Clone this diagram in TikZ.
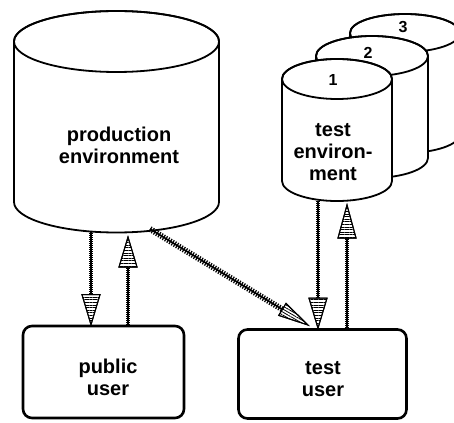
\documentclass[tikz,border=0pt]{standalone}
\usepackage{fontspec}
\setmainfont{Liberation Sans}
\usetikzlibrary{calc,patterns.meta}

\tikzset{
  drumline/.style={line width=1.8pt, draw=black, fill=white},
  userbox/.style={draw, line width=2.6pt, rounded corners=9pt},
  txt/.style={font=\bfseries\fontsize{20}{22}\selectfont, align=center, inner sep=0pt},
  disknum/.style={font=\bfseries\fontsize{16}{16}\selectfont, inner sep=0pt},
  shaft/.style={line width=1.4pt, preaction={draw, line width=4pt, dash pattern=on 1pt off 1pt}},
  bandshaft/.style={line width=1.6pt, preaction={draw, line width=6pt, dash pattern=on 1.2pt off 1.4pt}},
  hatchhead/.style={draw, line width=1pt, line join=miter},
}

% drum: centre x, top-ellipse y, bottom-ellipse y, x radius, y radius
\newcommand\drum[5]{%
  \filldraw[drumline] ({#1-#4},#2) -- ({#1-#4},#3)
    arc[start angle=180, end angle=0, x radius=#4, y radius=#5]
    -- ({#1+#4},#2)
    arc[start angle=0, end angle=-180, x radius=#4, y radius=#5] -- cycle;
  \draw[drumline, fill=none] (#1,#2) ellipse[x radius=#4, y radius=#5];
}

% hatched arrow: [pattern angle] shaft style, from, tip, head length, head half width
\newcommand\hatcharrow[6][0]{%
  \coordinate (hb) at ($(#4)!#5!(#3)$);
  \coordinate (hl) at ($(hb)!#6!90:(#4)$);
  \coordinate (hr) at ($(hb)!#6!-90:(#4)$);
  \draw[#2] (#3) -- (hb);
  \filldraw[hatchhead, fill=white] (#4) -- (hl) -- (hr) -- cycle;
  \fill[pattern={Lines[angle=#1, distance=2.6pt, line width=0.8pt]}] (#4) -- (hl) -- (hr) -- cycle;
  \draw[hatchhead] (#4) -- (hl) -- (hr) -- cycle;
}

\begin{document}
\begin{tikzpicture}[x=1pt, y=-1pt]
  \useasboundingbox (0,0) rectangle (454,422);
  \clip (0,0) rectangle (454,422);
  \fill[white] (0,0) rectangle (454,422);

  % production store
  \drum{116.5}{41.5}{202}{102.5}{30.5}
  \node[txt] (prod) at (119,145) {production\\environment};

  % stack of test stores, back to front
  \drum{405}{33}{134}{55}{19}
  \drum{372}{56}{158}{56}{20}
  \drum{337}{79}{181}{55}{20}
  \node[disknum] (n3) at (403,27) {3};
  \node[disknum] (n2) at (368,53) {2};
  \node[disknum] (n1) at (333,80) {1};
  \node[txt] (tenv) at (333,152) {test\\environ-\\ment};

  % users
  \node[userbox, minimum width=161pt, minimum height=92pt] (pub) at (103.5,372) {};
  \node[txt] (pubtxt) at (108,377) {public\\user};
  \node[userbox, minimum width=168pt, minimum height=89pt] (tuser) at (322.5,374) {};
  \node[txt] (tusertxt) at (323,379) {test\\user};

  % connector end points on the store rims
  \coordinate (prodA) at (91,231);
  \coordinate (prodB) at (128,237);
  \coordinate (prodC) at (150,229);
  \coordinate (tenvA) at (318,201);
  \coordinate (tenvB) at (347,205);
  \coordinate (pubA) at (prodA |- pub.north);
  \coordinate (pubB) at (prodB |- pub.north);
  \coordinate (tuA) at (tenvA |- tuser.north);
  \coordinate (tuB) at (tenvB |- tuser.north);
  \coordinate (tuC) at (308,325);

  \hatcharrow{shaft}{prodA}{pubA}{30pt}{9pt}
  \hatcharrow{shaft}{pubB}{prodB}{30pt}{9pt}
  \hatcharrow{shaft}{tenvA}{tuA}{30pt}{9pt}
  \hatcharrow{shaft}{tuB}{tenvB}{33pt}{9pt}
  \hatcharrow[-30]{bandshaft}{prodC}{tuC}{30pt}{7pt}
\end{tikzpicture}
\end{document}
